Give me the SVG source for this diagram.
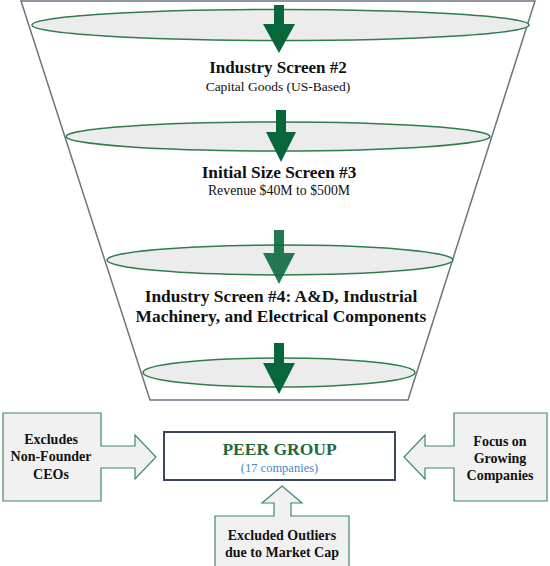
<svg xmlns="http://www.w3.org/2000/svg" width="550" height="566" viewBox="0 0 550 566">
<defs>
<style>
.funnel{fill:#ffffff;stroke:#6f7382;stroke-width:1.5}
.disc{fill:#ececec;stroke:#2f7d4e;stroke-width:1.5}
.arr{fill:#07663a}
.t{font-family:"Liberation Serif","Times New Roman",serif;fill:#111;text-anchor:middle}
.b{font-weight:bold}
.call{fill:#f1f1f1;stroke:#3f8a68;stroke-width:1.2}
.peer{fill:#ffffff;stroke:#3b475a;stroke-width:2}
</style>
</defs>
<rect width="550" height="566" fill="#ffffff"/>
<g id="funnel">
<path class="funnel" d="M21,1 L535,1 L408,400 L150,400 Z"/>
</g>
<g id="stage1">
<ellipse class="disc" cx="280.5" cy="25" rx="248.5" ry="15.5"/>
</g>
<g id="stage2">
<ellipse class="disc" cx="278" cy="136.5" rx="212" ry="14.5"/>
<text class="t b" x="278" y="73" font-size="17">Industry Screen #2</text>
<text class="t" x="278" y="91" font-size="13.5">Capital Goods (US-Based)</text>
</g>
<g id="stage3">
<ellipse class="disc" cx="280" cy="260" rx="173" ry="15"/>
<text class="t b" x="279" y="178" font-size="17.3">Initial Size Screen #3</text>
<text class="t" x="279" y="195" font-size="13.8">Revenue $40M to $500M</text>
</g>
<g id="stage4">
<ellipse class="disc" cx="279" cy="372.5" rx="136" ry="14.5"/>
<text class="t b" x="281" y="302" font-size="17.4">Industry Screen #4: A&amp;D, Industrial</text>
<text class="t b" x="281" y="322" font-size="17.4">Machinery, and Electrical Components</text>
</g>
<g id="connectors">
<path class="arr" d="M274,5 H284 V24 H295 L279,53 L263,24 H274 Z"/>
<path class="arr" d="M276,110 H286 V132 H296 L281,162 L266,132 H276 Z"/>
<path class="arr" d="M274,230 H284 V253 H295 L279,284 L263,253 H274 Z" opacity="0.88"/>
<path class="arr" d="M274,343 H284 V363 H295 L279,394 L263,363 H274 Z"/>
</g>
<g id="peer-group">
<rect class="peer" x="164" y="432" width="231" height="48"/>
<text class="t b" x="279.5" y="455" font-size="17.5" style="fill:#1f6b3d">PEER GROUP</text>
<text class="t" x="279.5" y="472" font-size="12.5" style="fill:#4a86c8">(17 companies)</text>
</g>
<g id="left-callout">
<path class="call" d="M3,413 H101 V446 H135 V435 L156,457 L135,479 V468 H101 V501 H3 Z"/>
<text class="t b" x="51" y="444" font-size="14">Excludes</text>
<text class="t b" x="51" y="461" font-size="14">Non-Founder</text>
<text class="t b" x="51" y="479" font-size="14">CEOs</text>
</g>
<g id="right-callout">
<path class="call" d="M547,413 H454 V446 H425 V435 L404,457 L425,479 V468 H454 V501 H547 Z"/>
<text class="t b" x="500" y="446" font-size="14">Focus on</text>
<text class="t b" x="500" y="463" font-size="14">Growing</text>
<text class="t b" x="500" y="480" font-size="14">Companies</text>
</g>
<g id="bottom-callout">
<path class="call" d="M215,570 V516 H274 V503 H262 L282,486 L302,503 H291 V516 H349 V570"/>
<text class="t b" x="282" y="540" font-size="14">Excluded Outliers</text>
<text class="t b" x="282" y="557" font-size="14">due to Market Cap</text>
</g>
</svg>
